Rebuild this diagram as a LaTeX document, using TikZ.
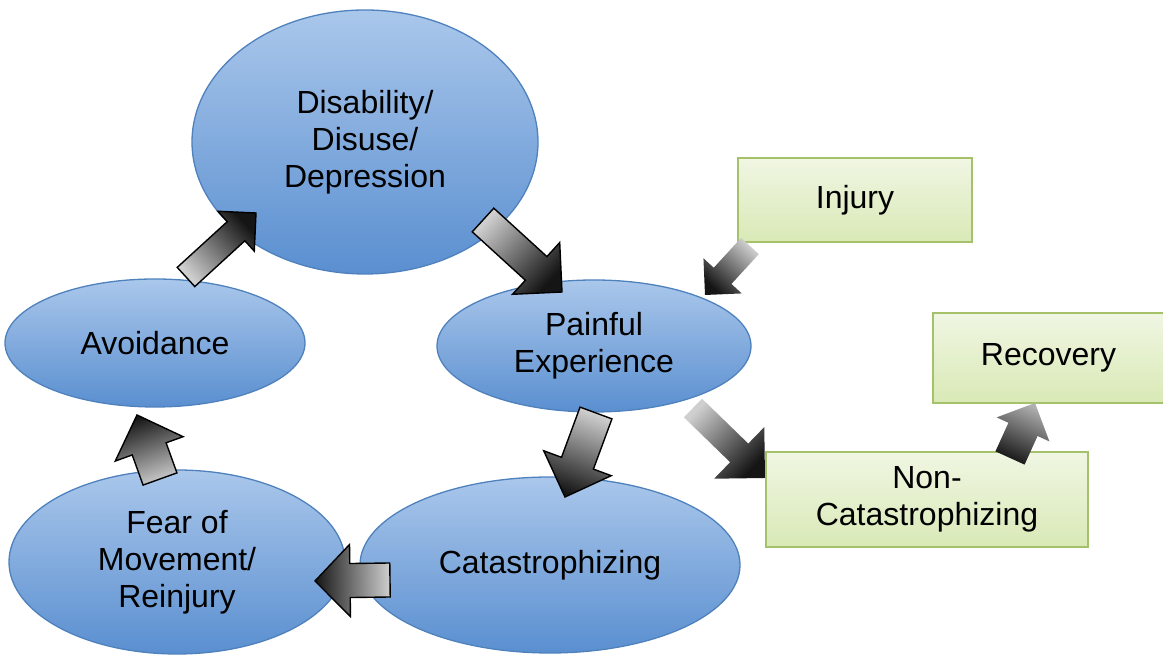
\documentclass[tikz,border=0pt]{standalone}
\usepackage{fontspec}
\setmainfont{Liberation Sans}
\usetikzlibrary{calc,shapes.geometric}
\definecolor{elltop}{HTML}{AAC7EB}
\definecolor{ellbot}{HTML}{5A8FD0}
\definecolor{elldraw}{HTML}{4F81BD}
\definecolor{boxtop}{HTML}{F0F6E3}
\definecolor{boxbot}{HTML}{D9E9B6}
\definecolor{boxdraw}{HTML}{A5C26A}
\definecolor{arrlight}{HTML}{CFCFCF}
\definecolor{arrdark}{HTML}{151515}

\newcommand\blockarrow[6]{%
  \pgfmathanglebetweenpoints{\pgfpointanchor{#1}{center}}{\pgfpointanchor{#2}{center}}%
  \pgfmathsetmacro\arrang{\pgfmathresult-90}%
  \coordinate (#2-base) at ($(#2)!#5!(#1)$);
  \path[#6, shading angle=\arrang]
    ($(#1)!#3!-90:(#2)$) -- ($(#2-base)!#3!-90:(#2)$) --
    ($(#2-base)!#4!-90:(#2)$) -- (#2) --
    ($(#2-base)!#4!90:(#2)$) -- ($(#2-base)!#3!90:(#2)$) --
    ($(#1)!#3!90:(#2)$) -- cycle;
}

\tikzset{
  oval/.style={ellipse, draw=elldraw, line width=1.3pt, top color=elltop, bottom color=ellbot,
    inner sep=0pt, align=center, font=\fontsize{32}{37}\selectfont},
  gbox/.style={rectangle, draw=boxdraw, line width=1.5pt, top color=boxtop, bottom color=boxbot,
    inner sep=0pt, align=center, font=\fontsize{32}{37}\selectfont},
  cyclearrow/.style={draw=black, line width=1.4pt, line join=miter, top color=arrdark, bottom color=arrlight},
  plainarrow/.style={top color=arrdark, bottom color=arrlight},
  revarrow/.style={top color=arrlight!85!black, bottom color=arrdark},
}

\begin{document}
\begin{tikzpicture}[x=1pt,y=1pt]
\useasboundingbox (0,0) rectangle (1163,655);

% ellipses
\node[oval, minimum width=346pt, minimum height=264pt] (dis) at (365,513) {Disability/\\Disuse/\\Depression};
\node[oval, minimum width=300pt, minimum height=128pt] (av) at (155,312) {Avoidance};
\node[oval, minimum width=314pt, minimum height=132pt] (pe) at (594,309) {Painful\\Experience};
\node[oval, minimum width=380pt, minimum height=176pt] (cat) at (550,90) {Catastrophizing};
\node[oval, minimum width=336pt, minimum height=184pt] (fear) at (177,93) {Fear of\\Movement/\\Reinjury};

% boxes
\node[gbox, minimum width=234pt, minimum height=84pt] (inj) at (855,455) {Injury};
\node[gbox, minimum width=231pt, minimum height=90pt] (rec) at (1048.5,297) {Recovery};
\node[gbox, minimum width=322pt, minimum height=95pt] (nc) at (927,155.5) {Non-\\Catastrophizing};

% arrow end points
\coordinate (t1) at (186,378); \coordinate (h1) at (256,442);
\coordinate (t2) at (483,435); \coordinate (h2) at (562,363);
\coordinate (t3) at (750,409); \coordinate (h3) at (705,360);
\coordinate (t4) at (596,242); \coordinate (h4) at (565,158);
\coordinate (t5) at (693,247); \coordinate (h5) at (765,177);
\coordinate (t6) at (1010,197); \coordinate (h6) at (1035,252);
\coordinate (t7) at (390,75);  \coordinate (h7) at (315,74);
\coordinate (t8) at (160,176); \coordinate (h8) at (137,240);

% block arrows
\blockarrow{t1}{h1}{13pt}{27pt}{27pt}{cyclearrow}
\blockarrow{t2}{h2}{16pt}{35pt}{35pt}{cyclearrow}
\blockarrow{t3}{h3}{12pt}{26pt}{26pt}{plainarrow}
\blockarrow{t4}{h4}{17pt}{36pt}{36pt}{cyclearrow}
\blockarrow{t5}{h5}{13pt}{36pt}{36pt}{plainarrow}
\blockarrow{t6}{h6}{16pt}{29pt}{29pt}{revarrow}
\blockarrow{t7}{h7}{17pt}{36pt}{35pt}{cyclearrow}
\blockarrow{t8}{h8}{18pt}{36pt}{36pt}{cyclearrow}
\end{tikzpicture}
\end{document}
